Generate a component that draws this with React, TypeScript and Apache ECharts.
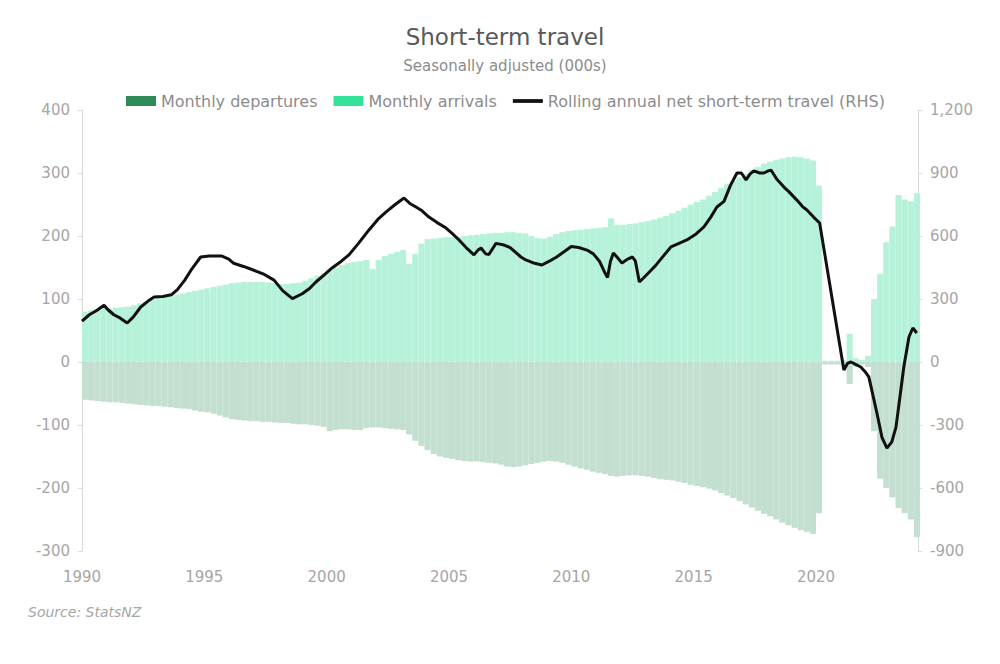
import React, { useEffect, useRef } from 'react';
import * as echarts from 'echarts';

const FIRST_YEAR = 1990;

// Quarterly readings (000s, seasonally adjusted), one row per year: Q1..Q4
const monthlyArrivals: number[] = [
  80, 82, 84, 85, // 1990
  85, 86, 87, 88, // 1991
  90, 93, 96, 99, // 1992
  101, 103, 105, 107, // 1993
  109, 111, 113, 115, // 1994
  117, 119, 121, 123, // 1995
  125, 126, 127, 127, // 1996
  127, 127, 126, 125, // 1997
  124, 124, 125, 126, // 1998
  129, 133, 137, 141, // 1999
  146, 150, 154, 157, // 2000
  159, 160, 162, 148, // 2001
  162, 168, 172, 175, // 2002
  178, 156, 172, 188, // 2003
  195, 196, 197, 198, // 2004
  198, 199, 200, 201, // 2005
  202, 203, 204, 205, // 2006
  205, 206, 206, 205, // 2007
  204, 200, 197, 196, // 2008
  199, 203, 206, 208, // 2009
  209, 210, 211, 212, // 2010
  213, 214, 228, 218, // 2011
  218, 219, 220, 222, // 2012
  224, 226, 229, 232, // 2013
  236, 240, 245, 250, // 2014
  254, 258, 264, 270, // 2015
  276, 283, 288, 293, // 2016
  298, 305, 310, 315, // 2017
  318, 321, 323, 325, // 2018
  326, 325, 323, 320, // 2019
  280, 2, 2, 2, // 2020
  3, 45, 6, 3, // 2021
  10, 100, 140, 190, // 2022
  215, 265, 258, 255, // 2023
  268, // 2024
];

const monthlyDepartures: number[] = [
  -60, -61, -62, -63, // 1990
  -64, -64, -65, -66, // 1991
  -67, -68, -69, -70, // 1992
  -70, -71, -72, -73, // 1993
  -74, -75, -77, -79, // 1994
  -80, -82, -85, -88, // 1995
  -91, -92, -93, -94, // 1996
  -94, -95, -95, -96, // 1997
  -97, -97, -98, -99, // 1998
  -99, -100, -101, -103, // 1999
  -110, -108, -107, -107, // 2000
  -108, -108, -105, -104, // 2001
  -104, -105, -106, -107, // 2002
  -108, -115, -125, -133, // 2003
  -140, -146, -150, -152, // 2004
  -154, -156, -157, -158, // 2005
  -158, -159, -160, -161, // 2006
  -163, -166, -167, -166, // 2007
  -164, -162, -160, -158, // 2008
  -157, -158, -160, -163, // 2009
  -166, -169, -171, -174, // 2010
  -176, -178, -181, -182, // 2011
  -181, -180, -180, -181, // 2012
  -182, -184, -186, -187, // 2013
  -188, -190, -192, -195, // 2014
  -197, -199, -201, -204, // 2015
  -208, -212, -216, -221, // 2016
  -226, -231, -236, -241, // 2017
  -245, -250, -255, -259, // 2018
  -263, -267, -270, -273, // 2019
  -240, -4, -4, -4, // 2020
  -5, -35, -8, -4, // 2021
  -8, -110, -185, -200, // 2022
  -215, -232, -240, -250, // 2023
  -278, // 2024
];

// Rolling annual net short-term travel (RHS), read at turning points
const netDates: number[] = [
  1990.0, 1990.3, 1990.6, 1990.9, 1991.05, 1991.3, 1991.55, 1991.85,
  1992.1, 1992.4, 1992.7, 1992.95, 1993.3, 1993.65, 1993.9, 1994.2,
  1994.5, 1994.85, 1995.2, 1995.7, 1996.0, 1996.2, 1996.6, 1997.0,
  1997.4, 1997.85, 1998.2, 1998.6, 1999.0, 1999.3, 1999.56, 1999.9,
  2000.22, 2000.6, 2000.91, 2001.3, 2001.73, 2002.1, 2002.42, 2002.8,
  2003.16, 2003.4, 2003.65, 2003.9, 2004.18, 2004.5, 2004.88, 2005.15,
  2005.41, 2005.7, 2006.02, 2006.2, 2006.31, 2006.5, 2006.63, 2006.92,
  2007.25, 2007.5, 2007.94, 2008.14, 2008.5, 2008.8, 2009.1, 2009.4,
  2009.7, 2010.0, 2010.3, 2010.64, 2010.9, 2011.15, 2011.35, 2011.48,
  2011.6, 2011.72, 2011.9, 2012.07, 2012.3, 2012.5, 2012.62, 2012.78,
  2012.95, 2013.2, 2013.45, 2013.8, 2014.07, 2014.4, 2014.72, 2015.1,
  2015.42, 2015.7, 2015.95, 2016.24, 2016.5, 2016.77, 2016.95, 2017.14,
  2017.3, 2017.46, 2017.7, 2017.87, 2018.05, 2018.16, 2018.4, 2018.69,
  2018.9, 2019.22, 2019.45, 2019.63, 2019.9, 2020.15, 2021.14, 2021.3,
  2021.43, 2021.6, 2021.83, 2022.0, 2022.16, 2022.35, 2022.49, 2022.7,
  2022.9, 2023.1, 2023.27, 2023.45, 2023.59, 2023.8, 2023.96, 2024.12,
];
const netValues: number[] = [
  195, 225, 245, 270, 250, 225, 210, 186,
  215, 262, 290, 310, 312, 320, 345, 390,
  445, 500, 505, 505, 490, 470, 455, 438,
  420, 390, 340, 302, 325, 350, 381, 415,
  448, 480, 510, 565, 629, 680, 714, 750,
  781, 755, 738, 720, 690, 665, 638, 610,
  581, 545, 510, 535, 543, 515, 512, 565,
  557, 545, 500, 486, 470, 462, 480, 500,
  525, 550, 545, 533, 515, 480, 430, 402,
  480, 519, 495, 471, 490, 500, 480, 381,
  400, 430, 460, 510, 548, 565, 581, 610,
  643, 690, 738, 765, 840, 900, 900, 867,
  895, 910, 900, 900, 910, 914, 870, 833,
  810, 771, 740, 724, 690, 662, -38, -5,
  0, -10, -24, -45, -71, -170, -243, -360,
  -410, -380, -310, -150, -24, 119, 162, 138,
];

const xLabelYears: number[] = [1990, 1995, 2000, 2005, 2010, 2015, 2020];

const FONT = '"DejaVu Sans", sans-serif';
const GREY = '#a6a6a6';
const ARR = '#b6f2d9';
const DEP = '#c3dfd0';

export default function App() {
  const ref = useRef<HTMLDivElement>(null);

  useEffect(() => {
    if (!ref.current) return;
    const chart = echarts.init(ref.current, null, { renderer: 'svg' });
    const quarterDates = monthlyArrivals.map((_, i) => FIRST_YEAR + (i + 0.5) / 4);

    chart.setOption({
      animation: false,
      backgroundColor: '#ffffff',
      textStyle: { fontFamily: FONT },
      title: [
        {
          text: 'Short-term travel',
          left: 505,
          top: 25,
          textAlign: 'center',
          padding: 0,
          textStyle: { fontFamily: FONT, fontSize: 23, fontWeight: 'normal', color: '#595959' },
        },
        {
          text: 'Seasonally adjusted (000s)',
          left: 505,
          top: 58,
          textAlign: 'center',
          padding: 0,
          textStyle: { fontFamily: FONT, fontSize: 15, fontWeight: 'normal', color: '#8c8c8c' },
        },
      ],
      legend: {
        left: 121,
        top: 88,
        itemWidth: 30,
        itemHeight: 10,
        itemGap: 16,
        textStyle: { fontFamily: FONT, fontSize: 16, color: '#8c8c8c' },
        data: [
          {
            name: 'Monthly departures',
            icon: 'rect',
            itemStyle: { color: '#2e8b57', borderWidth: 0 },
          },
          {
            name: 'Monthly arrivals',
            icon: 'rect',
            itemStyle: { color: '#33e39a', borderWidth: 0 },
          },
          {
            name: 'Rolling annual net short-term travel (RHS)',
            icon: 'path://M0 0H32V4H0Z',
            itemStyle: { color: '#111111', borderWidth: 0 },
          },
        ],
      },
      grid: { left: 82, right: 82, top: 110, bottom: 113 },
      xAxis: {
        type: 'value',
        min: 1990,
        max: 2024.17,
        interval: 5,
        splitLine: { show: false },
        axisLine: { show: false },
        axisTick: { show: false },
        axisLabel: {
          fontFamily: FONT,
          fontSize: 15,
          color: GREY,
          margin: 18,
          formatter: (v: number) => (xLabelYears.includes(v) ? String(v) : ''),
        },
      },
      yAxis: [
        {
          type: 'value',
          min: -300,
          max: 400,
          interval: 100,
          splitLine: { show: false },
          axisLine: { show: true, lineStyle: { color: '#d9d9d9', width: 1 } },
          axisTick: { show: true, length: 4, lineStyle: { color: '#d9d9d9' } },
          axisLabel: { fontFamily: FONT, fontSize: 15, color: GREY, margin: 12 },
        },
        {
          type: 'value',
          min: -900,
          max: 1200,
          interval: 300,
          splitLine: { show: false },
          axisLine: { show: true, lineStyle: { color: '#d9d9d9', width: 1 } },
          axisTick: { show: true, length: 4, lineStyle: { color: '#d9d9d9' } },
          axisLabel: {
            fontFamily: FONT,
            fontSize: 15,
            color: GREY,
            margin: 12,
            formatter: (v: number) => v.toLocaleString('en-US'),
          },
        },
      ],
      series: [
        {
          name: 'Monthly departures',
          type: 'bar',
          clip: true,
          barGap: '-100%',
          barCategoryGap: '0%',
          itemStyle: { color: DEP, borderColor: DEP, borderWidth: 1 },
          data: quarterDates.map((t, i) => [t, monthlyDepartures[i]]),
        },
        {
          name: 'Monthly arrivals',
          type: 'bar',
          clip: true,
          barGap: '-100%',
          barCategoryGap: '0%',
          itemStyle: { color: ARR, borderColor: ARR, borderWidth: 1 },
          data: quarterDates.map((t, i) => [t, monthlyArrivals[i]]),
        },
        {
          name: 'Rolling annual net short-term travel (RHS)',
          type: 'line',
          yAxisIndex: 1,
          symbol: 'none',
          z: 5,
          color: '#111111',
          lineStyle: { color: '#111111', width: 3 },
          data: netDates.map((t, i) => [t, netValues[i]]),
        },
      ],
      graphic: [
        {
          type: 'text',
          left: 28,
          top: 605,
          style: {
            text: 'Source: StatsNZ',
            fill: GREY,
            font: `italic 14px ${FONT}`,
          },
        },
      ],
    });

    return () => chart.dispose();
  }, []);

  return (
    <div
      ref={ref}
      style={{ position: 'absolute', left: 0, top: 0, width: 1000, height: 664 }}
    />
  );
}
